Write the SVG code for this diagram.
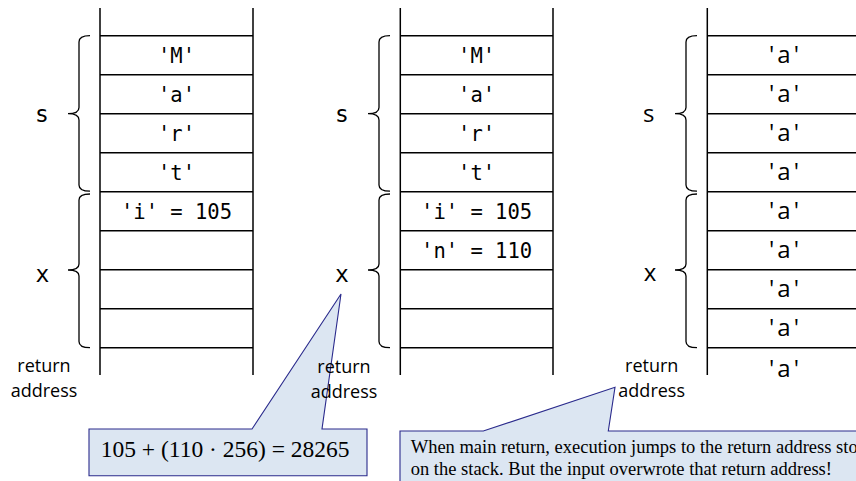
<svg xmlns="http://www.w3.org/2000/svg" width="856" height="481" viewBox="0 0 856 481">
<style>
.v{stroke:#000;stroke-width:1.5;fill:none}
.h{stroke:#000;stroke-width:1.6;fill:none}
.br{stroke:#000;stroke-width:1.3;fill:none}
.cell{font-family:"DejaVu Sans Mono","Liberation Mono",monospace;font-size:20.5px;fill:#000;text-anchor:middle}
.cella{font-family:"Open Sans","Liberation Sans",sans-serif;font-size:24px;fill:#000;text-anchor:middle;letter-spacing:3px}
.lblm{font-family:"DejaVu Sans Mono","Liberation Mono",monospace;font-size:23px;fill:#000;text-anchor:middle}
.lbls{font-family:"Open Sans","Liberation Sans",sans-serif;font-size:24px;fill:#000;text-anchor:middle}
.ret{font-family:"Open Sans","Liberation Sans",sans-serif;font-size:18px;fill:#000;text-anchor:middle}
.call{fill:#dce6f2;stroke:#2a2a8c;stroke-width:1.1}
.ct{font-family:"Liberation Serif","Times New Roman",serif;fill:#000}
</style>

<g id="callouts">
<g id="callout1">
<path class="call" d="M89,429 L252,429 L341,294 L322,429 L367,429 L367,475.7 L89,475.7 Z"/>
<text class="ct" x="100.7" y="456.7" font-size="23.5">105 + (110 · 256) = 28265</text>
</g>
<g id="callout2">
<path class="call" d="M400,490 L400,431 L483.3,431 L615,387.3 L608.3,431 L870,431 L870,490 Z"/>
<text class="ct" x="410.7" y="453" font-size="18.5">When main return, execution jumps to the return address sto</text>
<text class="ct" x="410.7" y="475" font-size="18.5">on the stack. But the input overwrote that return address!</text>
</g>
</g>

<g id="stack1">
<line class="v" x1="100" y1="8" x2="100" y2="375"/>
<line class="v" x1="253" y1="8" x2="253" y2="375"/>
<g class="h">
<line x1="100" y1="35.7" x2="253" y2="35.7"/>
<line x1="100" y1="74.7" x2="253" y2="74.7"/>
<line x1="100" y1="113.7" x2="253" y2="113.7"/>
<line x1="100" y1="152.7" x2="253" y2="152.7"/>
<line x1="100" y1="191.7" x2="253" y2="191.7"/>
<line x1="100" y1="230.7" x2="253" y2="230.7"/>
<line x1="100" y1="269.7" x2="253" y2="269.7"/>
<line x1="100" y1="308.7" x2="253" y2="308.7"/>
<line x1="100" y1="347.7" x2="253" y2="347.7"/>
</g>
<text class="cell" x="176.5" y="63.2">'M'</text>
<text class="cell" x="176.5" y="102.2">'a'</text>
<text class="cell" x="176.5" y="141.2">'r'</text>
<text class="cell" x="176.5" y="180.2">'t'</text>
<text class="cell" x="176.5" y="219.2">'i' = 105</text>
<path class="br" d="M90,35.7 Q79,35.7 79,42 L79,107.5 Q79,113.7 68,113.7 Q79,113.7 79,120 L79,185 Q79,191.2 90,191.2"/>
<path class="br" d="M90,194 Q79,194 79,200 L79,264 Q79,270 68,270 Q79,270 79,276 L79,341.5 Q79,347.7 90,347.7"/>
<text class="lblm" x="42" y="121.7">s</text>
<text class="lblm" x="42.5" y="281.7">x</text>
<text class="ret" x="44" y="371.7">return</text>
<text class="ret" x="44" y="396.7">address</text>
</g>

<g id="stack2">
<line class="v" x1="400.3" y1="8" x2="400.3" y2="375"/>
<line class="v" x1="553" y1="8" x2="553" y2="375"/>
<g class="h">
<line x1="400" y1="35.7" x2="553" y2="35.7"/>
<line x1="400" y1="74.7" x2="553" y2="74.7"/>
<line x1="400" y1="113.7" x2="553" y2="113.7"/>
<line x1="400" y1="152.7" x2="553" y2="152.7"/>
<line x1="400" y1="191.7" x2="553" y2="191.7"/>
<line x1="400" y1="230.7" x2="553" y2="230.7"/>
<line x1="400" y1="269.7" x2="553" y2="269.7"/>
<line x1="400" y1="308.7" x2="553" y2="308.7"/>
<line x1="400" y1="347.7" x2="553" y2="347.7"/>
</g>
<text class="cell" x="476.6" y="63.2">'M'</text>
<text class="cell" x="476.6" y="102.2">'a'</text>
<text class="cell" x="476.6" y="141.2">'r'</text>
<text class="cell" x="476.6" y="180.2">'t'</text>
<text class="cell" x="476.6" y="219.2">'i' = 105</text>
<text class="cell" x="476.6" y="258.2">'n' = 110</text>
<path class="br" d="M390,35.7 Q379,35.7 379,42 L379,107.5 Q379,113.7 368,113.7 Q379,113.7 379,120 L379,185 Q379,191.2 390,191.2"/>
<path class="br" d="M390,194 Q379,194 379,200 L379,264 Q379,270 368,270 Q379,270 379,276 L379,341.5 Q379,347.7 390,347.7"/>
<text class="lblm" x="342" y="121.7">s</text>
<text class="lblm" x="342" y="281.7">x</text>
<text class="ret" x="344" y="372.5">return</text>
<text class="ret" x="344" y="397.5">address</text>
</g>

<g id="stack3">
<line class="v" x1="707.3" y1="8" x2="707.3" y2="375"/>
<g class="h">
<line x1="707" y1="35.7" x2="856" y2="35.7"/>
<line x1="707" y1="74.7" x2="856" y2="74.7"/>
<line x1="707" y1="113.7" x2="856" y2="113.7"/>
<line x1="707" y1="152.7" x2="856" y2="152.7"/>
<line x1="707" y1="191.7" x2="856" y2="191.7"/>
<line x1="707" y1="230.7" x2="856" y2="230.7"/>
<line x1="707" y1="269.7" x2="856" y2="269.7"/>
<line x1="707" y1="308.7" x2="856" y2="308.7"/>
<line x1="707" y1="347.7" x2="856" y2="347.7"/>
</g>
<text class="cella" x="785.5" y="63.3">'a'</text>
<text class="cella" x="785.5" y="102.3">'a'</text>
<text class="cella" x="785.5" y="141.3">'a'</text>
<text class="cella" x="785.5" y="180.3">'a'</text>
<text class="cella" x="785.5" y="219.3">'a'</text>
<text class="cella" x="785.5" y="258.3">'a'</text>
<text class="cella" x="785.5" y="297.3">'a'</text>
<text class="cella" x="785.5" y="336.3">'a'</text>
<text class="cella" x="785.5" y="376.5">'a'</text>
<path class="br" d="M697,35.7 Q686,35.7 686,42 L686,107.5 Q686,113.7 675,113.7 Q686,113.7 686,120 L686,185 Q686,191.2 697,191.2"/>
<path class="br" d="M697,194 Q686,194 686,200 L686,264 Q686,270 675,270 Q686,270 686,276 L686,341.5 Q686,347.7 697,347.7"/>
<text class="lbls" x="648.7" y="121.7">s</text>
<text class="lbls" x="650" y="280.5">x</text>
<text class="ret" x="651.7" y="371.7">return</text>
<text class="ret" x="651.7" y="396.7">address</text>
</g>
</svg>
